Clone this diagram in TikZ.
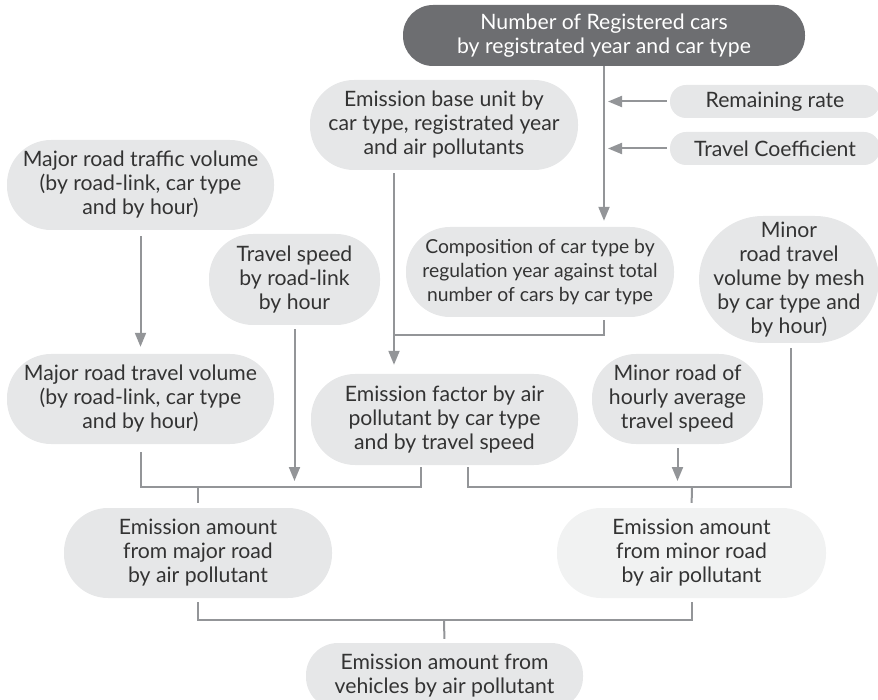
\documentclass[tikz,border=0pt]{standalone}
\usepackage{fontspec}
\setmainfont{Lato}
\usetikzlibrary{arrows.meta}
\definecolor{boxgray}{HTML}{E6E7E8}
\definecolor{boxlight}{HTML}{F1F2F2}
\definecolor{boxdark}{HTML}{6D6E71}
\definecolor{linegray}{HTML}{939598}
\definecolor{txtgray}{HTML}{333333}
\newcommand\fsmain{\fontsize{21.2}{24}\selectfont}
\newcommand\fssmall{\fontsize{19.3}{24}\selectfont}
\tikzset{
  box/.style={fill=boxgray, draw=none, inner sep=0pt, align=center, text=txtgray, font=\fsmain},
  line/.style={draw=linegray, line width=2pt},
  arr/.style={line, -{Triangle[width=11pt,length=14pt]}},
}
\begin{document}
\begin{tikzpicture}[x=1pt,y=-1pt]
\useasboundingbox (0,0) rectangle (878,700);
\clip (0,0) rectangle (878,700);
% nodes
\node[box, fill=boxdark, text=white, minimum width=402pt, minimum height=61pt, rounded corners=30pt] (top) at (604,35.5) {Number of Registered cars\\by registrated year and car type};
\node[box, minimum width=210pt, minimum height=33pt, rounded corners=16pt] (rem) at (775,101.5) {Remaining rate};
\node[box, minimum width=210pt, minimum height=33pt, rounded corners=16pt] (tc) at (775,148.5) {Travel Coefficient};
\node[box, minimum width=268pt, minimum height=90pt, rounded corners=44pt] (base) at (444,125) {Emission base unit by\\car type, registrated year\\and air pollutants};
\node[box, minimum width=267pt, minimum height=90pt, rounded corners=44pt] (majtraf) at (140.5,185) {Major road traffic volume\\(by road-link, car type\\and by hour)};
\node[box, minimum width=171pt, minimum height=91pt, rounded corners=44pt] (tspeed) at (294.5,279.5) {Travel speed\\by road-link\\by hour};
\node[box, font=\fssmall, minimum width=268pt, minimum height=90pt, rounded corners=44pt] (comp) at (540,272) {Composition of car type by\\regulation year against total\\number of cars by car type};
\node[box, minimum width=180pt, minimum height=127pt, rounded corners=64pt] (minvol) at (789,279.5) {Minor\\road travel\\volume by mesh\\by car type and\\by hour)};
\node[box, minimum width=267pt, minimum height=90pt, rounded corners=44pt] (majvol) at (140.5,399) {Major road travel volume\\(by road-link, car type\\and by hour)};
\node[box, minimum width=267pt, minimum height=91pt, rounded corners=44pt] (efac) at (444.5,419.5) {Emission factor by air\\pollutant by car type\\and by travel speed};
\node[box, minimum width=171pt, minimum height=90pt, rounded corners=44pt] (minspd) at (677.5,399) {Minor road of\\hourly average\\travel speed};
\node[box, minimum width=268pt, minimum height=90pt, rounded corners=44pt] (emaj) at (198,553) {Emission amount\\from major road\\by air pollutant};
\node[box, fill=boxlight, minimum width=269pt, minimum height=90pt, rounded corners=44pt] (emin) at (691.5,553) {Emission amount\\from minor road\\by air pollutant};
\node[box, minimum width=277pt, minimum height=66pt, rounded corners=32pt] (final) at (444.5,676) {Emission amount from\\vehicles by air pollutant};
% junctions
\coordinate (jB) at (394,335);
\coordinate (jL) at (198,487);
\coordinate (jR) at (692,487);
\coordinate (jF) at (444,620);
% connectors
\draw[arr, shorten >=6pt] (top.south) -- (top.south |- comp.north);
\draw[arr, shorten <=3pt, shorten >=4pt] (rem.west) -- (top.south |- rem.west);
\draw[arr, shorten <=3pt, shorten >=4pt] (tc.west) -- (top.south |- tc.west);
\draw[arr, shorten <=3pt, shorten >=9pt] ([xshift=-50pt]base.south) -- ([xshift=-50pt]base.south |- efac.north);
\draw[line, shorten <=3pt] (comp.south -| top.south) |- (jB);
\draw[arr, shorten <=6pt, shorten >=7pt] (majtraf.south) -- (majvol.north);
\draw[arr, shorten <=4pt, shorten >=6pt] (tspeed.south) -- (tspeed.south |- jL);
\draw[line, shorten <=8pt, shorten >=2pt] (majvol.south) |- (jL) -| ([xshift=-23.5pt]efac.south);
\draw[line, shorten >=5pt] (jL) -- (emaj.north);
\draw[line, shorten <=2pt, shorten >=5pt] ([xshift=23.5pt]efac.south) |- (jR) -| ([xshift=2pt]minvol.south);
\draw[arr, shorten <=4pt, shorten >=6pt] (minspd.south) -- (minspd.south |- jR);
\draw[line, shorten >=5pt] (jR) -- (emin.north);
\draw[line, shorten <=4pt, shorten >=4pt] (emaj.south) |- (jF) -| (emin.south);
\draw[line, shorten >=4pt] (jF) -- (final.north);
\end{tikzpicture}
\end{document}
